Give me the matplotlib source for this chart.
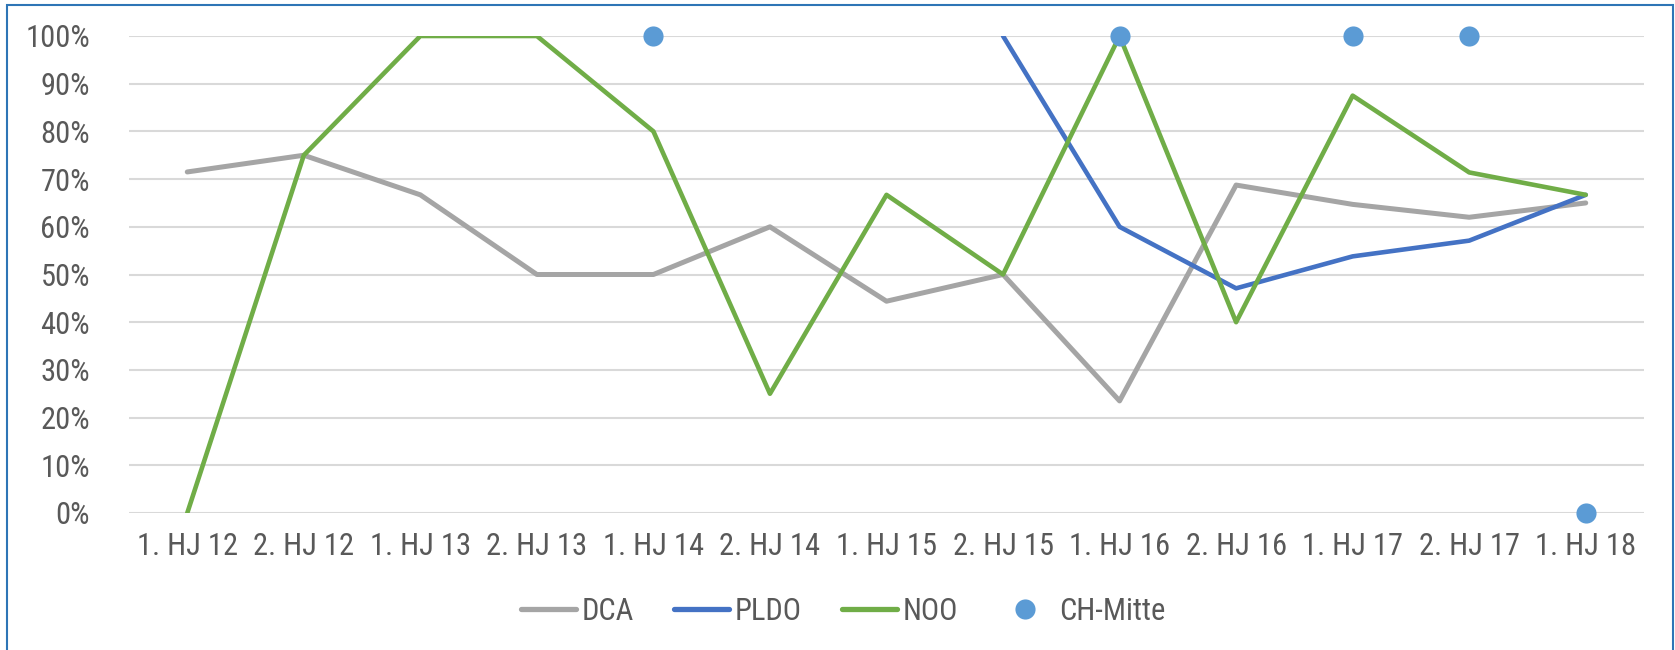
import matplotlib
matplotlib.use("Agg")
import matplotlib.pyplot as plt
from matplotlib import font_manager
from matplotlib.lines import Line2D
from matplotlib.patches import Rectangle
import numpy as np

categories = ["1. HJ 12", "2. HJ 12", "1. HJ 13", "2. HJ 13", "1. HJ 14", "2. HJ 14",
              "1. HJ 15", "2. HJ 15", "1. HJ 16", "2. HJ 16", "1. HJ 17", "2. HJ 17", "1. HJ 18"]
dca = [71.5, 75.0, 66.7, 50.0, 50.0, 60.0, 44.4, 50.0, 23.5, 68.75, 64.7, 62.0, 65.0]
pldo = [None, None, None, None, None, None, None, 100.0, 60.0, 47.1, 53.8, 57.1, 66.7]
noo = [0.0, 75.0, 100.0, 100.0, 80.0, 25.0, 66.7, 50.0, 100.0, 40.0, 87.5, 71.4, 66.7]
ch_mitte = [None, None, None, None, 100.0, None, None, None, 100.0, None, 100.0, 100.0, 0.0]
yticks = [0, 10, 20, 30, 40, 50, 60, 70, 80, 90, 100]

fam = "DejaVu Sans"
for cand in ["Liberation Sans Narrow", "Roboto Condensed", "Open Sans Condensed", "Roboto"]:
    try:
        font_manager.findfont(cand, fallback_to_default=False)
        fam = cand
        break
    except Exception:
        pass
plt.rcParams['font.family'] = [fam, 'DejaVu Sans']

text_color = "#595959"
grid_color = "#D9D9D9"
fs = 22

fig = plt.figure(figsize=(16.75, 6.5), dpi=100)
ax = fig.add_axes([129/1675, 1-513/650, (1644-129)/1675, (513-36)/650])

x = np.arange(len(categories))

def arr(v):
    return np.array([np.nan if a is None else a for a in v], dtype=float)

ax.plot(x, arr(dca), color="#A5A5A5", lw=3.6, solid_capstyle="round", zorder=3)
ax.plot(x, arr(pldo), color="#4472C4", lw=3.3, solid_capstyle="round", zorder=4)
ax.plot(x, arr(noo), color="#70AD47", lw=3.3, solid_capstyle="round", zorder=5)
ax.plot(x, arr(ch_mitte), linestyle="none", marker="o", ms=14.5, color="#5B9BD5",
        markeredgewidth=0, zorder=6, clip_on=False)

ax.set_xlim(-0.5, len(categories)-0.5)
ax.set_ylim(0, 100)
ax.set_yticks(yticks)
ax.set_yticklabels([f"{t}%" for t in yticks])
ax.set_xticks(x)
ax.set_xticklabels(categories)
ax.tick_params(axis="both", length=0, labelsize=fs, colors=text_color)
ax.tick_params(axis="y", pad=28)
ax.tick_params(axis="x", pad=14)
for s in ax.spines.values():
    s.set_visible(False)
ax.grid(axis="y", color=grid_color, lw=1.5, zorder=0)
ax.set_axisbelow(True)

handles = [
    Line2D([], [], color="#A5A5A5", lw=3.8, solid_capstyle="round"),
    Line2D([], [], color="#4472C4", lw=3.8, solid_capstyle="round"),
    Line2D([], [], color="#70AD47", lw=3.8, solid_capstyle="round"),
    Line2D([], [], linestyle="none", marker="o", ms=14.5, color="#5B9BD5", markeredgewidth=0),
]
leg = fig.legend(handles, ["DCA", "PLDO", "NOO", "CH-Mitte"], loc="center",
                 bbox_to_anchor=(843/1675, 1-611/650), ncol=4, frameon=False,
                 fontsize=fs, handlelength=1.8, handletextpad=0.2, columnspacing=1.3)
for t in leg.get_texts():
    t.set_color(text_color)

fig.patches.append(Rectangle((7/1675, -0.01), (1673-7)/1675, 1-5/650+0.01,
                             transform=fig.transFigure, fill=False,
                             edgecolor="#2E75B6", lw=1.5))

fig.savefig("out.png", dpi=100)
